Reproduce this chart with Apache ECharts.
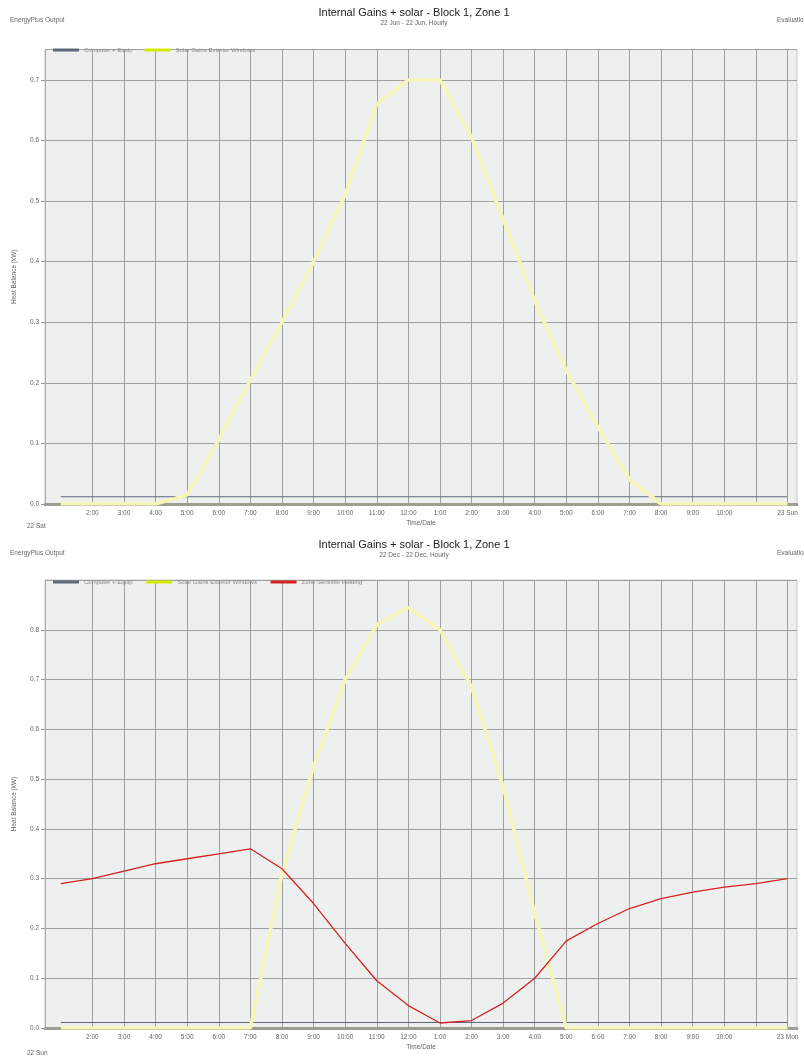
<!DOCTYPE html>
<html>
<head>
<meta charset="utf-8">
<script src="https://cdn.jsdelivr.net/npm/echarts@6/dist/echarts.min.js"></script>
<style>html,body{margin:0;padding:0;background:#fff;}#c{width:804px;height:1057px;}</style>
</head>
<body>
<div id="c"></div>
<script>
// ---- data ----
const hours = [1,2,3,4,5,6,7,8,9,10,11,12,13,14,15,16,17,18,19,20,21,22,23,24];
const gridHours = [2,3,4,5,6,7,8,9,10,11,12,13,14,15,16,17,18,19,20,21,22,23,24];
const tickLabels = ['', '2:00','3:00','4:00','5:00','6:00','7:00','8:00','9:00','10:00','11:00','12:00',
                    '1:00','2:00','3:00','4:00','5:00','6:00','7:00','8:00','9:00','10:00','', ''];
const endLabelJun = '23 Sun';
const endLabelDec = '23 Mon';
const startLabelJun = '22 Sat';
const startLabelDec = '22 Sun';
const seriesNames = ['Computer + Equip', 'Solar Gains Exterior Windows', 'Zone Sensible Heating'];

// June 22 (top chart)
const junEquip = [0.012,0.012,0.012,0.012,0.012,0.012,0.012,0.012,0.012,0.012,0.012,0.012,
                  0.012,0.012,0.012,0.012,0.012,0.012,0.012,0.012,0.012,0.012,0.012,0.012];
const junSolar = [0,0,0,0,0.015,0.106,0.205,0.30,0.40,0.51,0.66,0.70,
                  0.70,0.605,0.47,0.335,0.22,0.127,0.04,0,0,0,0,0];

// December 22 (bottom chart)
const decEquip = [0.011,0.011,0.011,0.011,0.011,0.011,0.011,0.011,0.011,0.011,0.011,0.011,
                  0.011,0.011,0.011,0.011,0.011,0.011,0.011,0.011,0.011,0.011,0.011,0.011];
const decSolar = [0,0,0,0,0,0,0,0.31,0.525,0.70,0.81,0.845,
                  0.80,0.685,0.485,0.23,0,0,0,0,0,0,0,0];
const decHeating = [0.29,0.30,0.315,0.33,0.34,0.35,0.36,0.32,0.25,0.17,0.095,0.045,
                    0.01,0.015,0.05,0.10,0.175,0.21,0.24,0.26,0.273,0.283,0.29,0.30];

const COL_EQUIP = '#5f687a';
const COL_SOLAR_LEG = '#d6ea00';
const COL_SOLAR = '#f5f6b8';
const COL_HEAT = '#d42222';
const FONT = 'Liberation Sans, Arial, sans-serif';

function pairs(arr){ return hours.map((h,i)=>[h, arr[i]]); }

function xAxisFor(gridIndex, endLabel){
  const labelVals = hours.filter((h,i)=> tickLabels[i] !== '' ).concat([24]);
  return {
    type:'value', gridIndex, min:0.5, max:24.3,
    axisLine:{show:true, lineStyle:{color:'#9d9d90', width:3}},
    axisTick:{show:false, customValues: gridHours},
    splitLine:{show:true, customValues: gridHours, lineStyle:{color:'#a0a0a0', width:1}},
    axisLabel:{
      customValues: labelVals,
      fontSize:6.5, color:'#666', fontFamily:FONT, margin:6,
      formatter:(v)=> v===24 ? endLabel : tickLabels[v-1]
    },
    name:'Time/Date', nameLocation:'middle', nameGap:16,
    nameTextStyle:{fontSize:6.5, color:'#666', fontFamily:FONT}
  };
}
function yAxisFor(gridIndex, max){
  return {
    type:'value', gridIndex, min:0, max, interval:0.1,
    axisLine:{show:true, lineStyle:{color:'#aaa', width:1}},
    axisTick:{show:true, length:4, lineStyle:{color:'#999'}},
    splitLine:{show:true, lineStyle:{color:'#a0a0a0', width:1}},
    axisLabel:{fontSize:6.5, color:'#666', fontFamily:FONT, margin:6, showMaxLabel:false,
      formatter:(v)=> (Math.abs(v*10 - Math.round(v*10))<1e-6) ? v.toFixed(1) : ''},
    name:'Heat Balance (kW)', nameLocation:'middle', nameGap:27, nameRotate:90,
    nameTextStyle:{fontSize:6.5, color:'#666', fontFamily:FONT}
  };
}
function textTitle(text, left, top, size, color, align){
  return {text, left, top, textAlign: align||'left',
    textStyle:{fontSize:size, color, fontWeight:'normal', fontFamily:FONT}};
}

const option = {
  backgroundColor:'#fff',
  animation:false,
  title:[
    textTitle('Internal Gains + solar - Block 1, Zone 1', 409, 2, 11, '#222', 'center'),
    textTitle('22 Jun - 22 Jun, Hourly', 409, 15, 6.5, '#666', 'center'),
    textTitle('EnergyPlus Output', 5, 12, 6.5, '#666'),
    textTitle('Evaluation', 772, 12, 6.5, '#666'),
    textTitle(startLabelJun, 22, 518, 6.5, '#666'),

    textTitle('Internal Gains + solar - Block 1, Zone 1', 409, 534, 11, '#222', 'center'),
    textTitle('22 Dec - 22 Dec, Hourly', 409, 547, 6.5, '#666', 'center'),
    textTitle('EnergyPlus Output', 5, 545, 6.5, '#666'),
    textTitle('Evaluation', 772, 545, 6.5, '#666'),
    textTitle(startLabelDec, 22, 1045, 6.5, '#666')
  ],
  legend:[
    {left:48, top:42, icon:'rect', itemWidth:26, itemHeight:3, itemGap:12,
     textStyle:{fontSize:6, color:'#888', fontFamily:FONT},
     data:[seriesNames[0], seriesNames[1]]},
    {left:48, top:574, icon:'rect', itemWidth:26, itemHeight:3, itemGap:12,
     textStyle:{fontSize:6, color:'#888', fontFamily:FONT},
     data:[seriesNames[0]+' ', seriesNames[1]+' ', seriesNames[2]]}
  ],
  grid:[
    {left:45, right:7, top:49.5, height:454.5, show:true, backgroundColor:'#eef0f0', borderColor:'#c8c8c8', borderWidth:1},
    {left:45, right:7, top:580, height:448, show:true, backgroundColor:'#eef0f0', borderColor:'#c8c8c8', borderWidth:1}
  ],
  xAxis:[ xAxisFor(0, endLabelJun), xAxisFor(1, endLabelDec) ],
  yAxis:[ yAxisFor(0, 0.75), yAxisFor(1, 0.9) ],
  series:[
    {name:seriesNames[0], type:'line', xAxisIndex:0, yAxisIndex:0, data:pairs(junEquip),
     showSymbol:false, itemStyle:{color:COL_EQUIP}, lineStyle:{color:COL_EQUIP, width:1.2}},
    {name:seriesNames[1], type:'line', xAxisIndex:0, yAxisIndex:0, data:pairs(junSolar),
     showSymbol:false, itemStyle:{color:COL_SOLAR_LEG}, lineStyle:{color:COL_SOLAR, width:3.5}},

    {name:seriesNames[0]+' ', type:'line', xAxisIndex:1, yAxisIndex:1, data:pairs(decEquip),
     showSymbol:false, itemStyle:{color:COL_EQUIP}, lineStyle:{color:COL_EQUIP, width:1.2}},
    {name:seriesNames[1]+' ', type:'line', xAxisIndex:1, yAxisIndex:1, data:pairs(decSolar),
     showSymbol:false, itemStyle:{color:COL_SOLAR_LEG}, lineStyle:{color:COL_SOLAR, width:3.5}},
    {name:seriesNames[2], type:'line', xAxisIndex:1, yAxisIndex:1, data:pairs(decHeating),
     showSymbol:false, itemStyle:{color:COL_HEAT}, lineStyle:{color:COL_HEAT, width:1.3}}
  ]
};
const chart = echarts.init(document.getElementById('c'), null, {renderer:'canvas'});
chart.setOption(option);
</script>
</body>
</html>
